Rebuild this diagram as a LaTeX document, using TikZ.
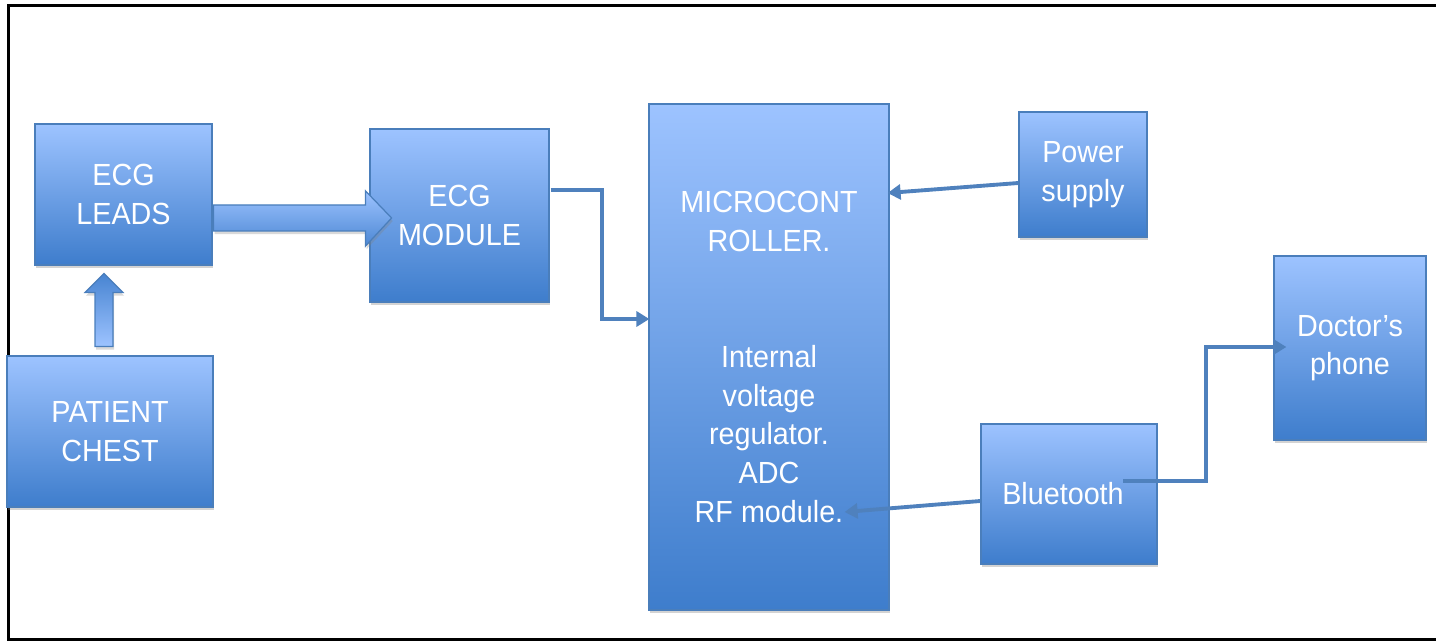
\documentclass[tikz,border=0pt]{standalone}
\usepackage{fontspec}
\setmainfont{Liberation Sans}[FakeStretch=0.94]
\usetikzlibrary{calc, shadows, arrows.meta}

\definecolor{boxtop}{RGB}{157,195,255}
\definecolor{boxbot}{RGB}{62,125,204}
\definecolor{boxline}{RGB}{74,126,187}
\definecolor{linkblue}{RGB}{79,129,189}

\tikzset{
	block/.style={draw=boxline, line width=0.7pt, top color=boxtop, bottom color=boxbot, text=white, align=center, font=\fontsize{17.4}{22}\selectfont, inner sep=0pt, drop shadow={shadow xshift=0.6pt, shadow yshift=-1.8pt, opacity=0.35}},
	link/.style={linkblue, line width=2.2pt, -{Triangle[length=0.26cm, width=0.3cm]}},
	fatarrow/.style={draw=boxline, line width=0.7pt, drop shadow={shadow xshift=0.6pt, shadow yshift=-1.8pt, opacity=0.3}}
}

\begin{document}
\begin{tikzpicture}[x=0.02cm, y=-0.02cm]
		\useasboundingbox (0,0) rectangle (1436,641);
		\draw [line width=1.3pt] (1436,5.5) -- (8.5,5.5) -- (8.5,639.5) -- (1436,639.5);

		\node [block, minimum width=3.54cm, minimum height=2.82cm] (leads) at (123.5,194.5) {ECG\\LEADS};
		\node [block, minimum width=4.12cm, minimum height=3.02cm] (chest) at (110,431.5) {PATIENT\\CHEST};
		\node [block, minimum width=3.58cm, minimum height=3.46cm] (module) at (459.5,215.5) {ECG\\MODULE};
		\node [block, minimum width=4.8cm, minimum height=10.12cm] (mcu) at (769,357) {MICROCONT\\ROLLER.\\[44pt]Internal\\voltage\\regulator.\\ADC\\RF module.};
		\node [block, minimum width=2.56cm, minimum height=2.5cm] (power) at (1083,174.5) {Power\\supply};
		\node [block, minimum width=3.04cm, minimum height=3.68cm] (phone) at (1350,348) {Doctor’s\\phone};
		\node [block, minimum width=3.52cm, minimum height=2.8cm] (bt) at (1069,494) {Bluetooth\hspace{0.24cm}};

		\draw [fatarrow] [top color=boxtop, bottom color=boxbot!85!boxtop] ($(leads.east)+(1,23.5)$) ++(0,-13) -- ++(152,0) -- ++(0,-14) -- ++(26,27) -- ++(-26,28) -- ++(0,-15) -- ++(-152,0) -- cycle;
		\draw [fatarrow] [top color=boxbot!90!boxtop, bottom color=boxtop] ($(chest.north)+(-6,-9)$) ++(-9,0) -- ++(0,-54) -- ++(-10,0) -- ++(19,-19) -- ++(19,19) -- ++(-10,0) -- ++(0,54) -- cycle;

		\draw [link] ($(module.east)+(1,-25.5)$) -- ++(51,0) |- ($(mcu.west)+(1,-38)$);
		\draw [link] ($(power.west)+(0,8.5)$) -- ($(mcu.east)+(-2,-164)$);
		\draw [link] ($(bt.west)+(0,7)$) -- ($(mcu.east)+(-45,155)$);
		\draw [link] ($(bt.center)+(54,-13)$) -- ++(83,0) |- ($(phone.west)+(13,-1)$);
	\end{tikzpicture}
\end{document}
